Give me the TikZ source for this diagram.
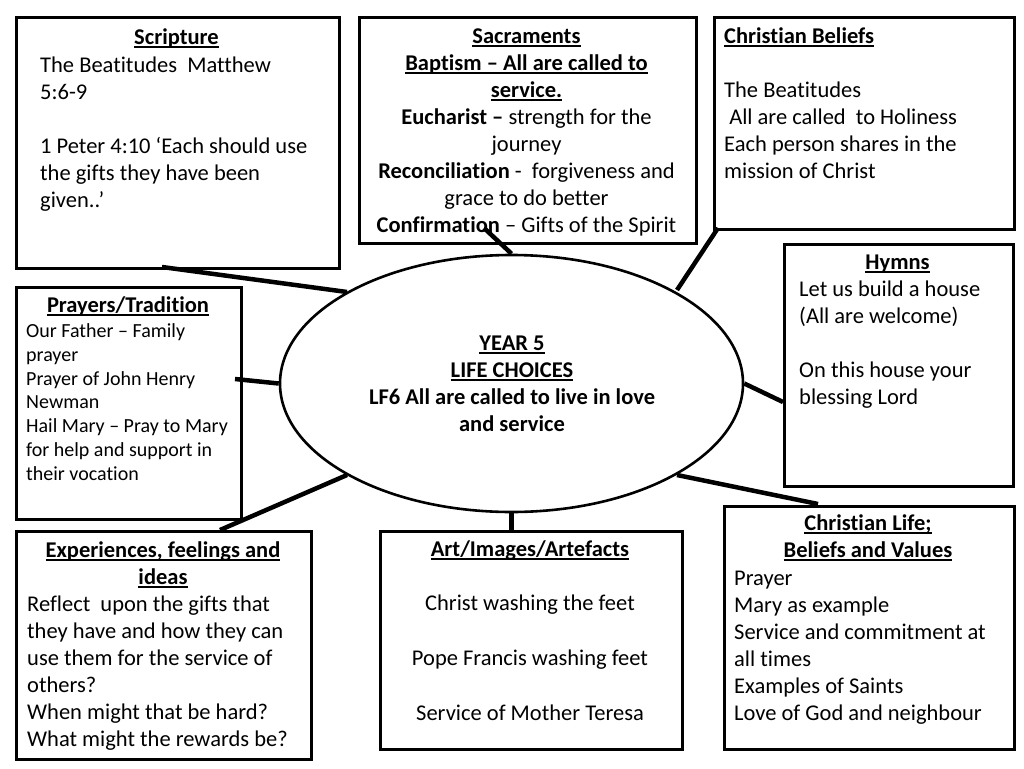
\documentclass[tikz,border=0pt]{standalone}
\usepackage{fontspec}
\setmainfont[Ligatures={NoCommon}]{Carlito}
\usetikzlibrary{shapes.geometric}
\newsavebox\ulbox
\newcommand{\uln}[1]{\sbox\ulbox{#1}\rlap{\rule[-3.4pt]{\wd\ulbox}{1.6pt}}\usebox\ulbox}
\newcommand{\fl}{\rule{0pt}{20pt}}
\begin{document}
\begin{tikzpicture}[x=1pt,y=-1pt,
  box/.style={draw=black, line width=2.6pt, fill=white, rectangle, inner sep=0pt, anchor=north west},
  conn/.style={draw=black, line width=4.5pt},
  big/.style={font=\fontsize{22.5}{27}\selectfont, inner sep=0pt, align=left, anchor=north west},
  bigc/.style={font=\fontsize{22.5}{27}\selectfont, inner sep=0pt, align=center, anchor=north},
  small/.style={font=\fontsize{20}{23.9}\selectfont, inner sep=0pt, align=left, anchor=north west}]
\useasboundingbox[fill=white] (0,0) rectangle (1024,768);

% boxes
\node[box, minimum width=323pt, minimum height=251pt] (scr) at (15,16) {};
\node[box, minimum width=337pt, minimum height=226pt] (sac) at (358,16) {};
\node[box, minimum width=300pt, minimum height=212pt] (cb) at (713,16) {};
\node[box, minimum width=229pt, minimum height=242pt] (hym) at (783,243) {};
\node[box, minimum width=225pt, minimum height=232pt] (pra) at (15,286) {};
\node[box, minimum width=295pt, minimum height=228pt] (exp) at (15,530) {};
\node[box, minimum width=302pt, minimum height=218pt] (art) at (379,530) {};
\node[box, minimum width=290pt, minimum height=243pt] (cl) at (723,505) {};
\node[draw=black, ellipse, line width=2.6pt, fill=white, minimum width=463pt, minimum height=257pt, inner sep=0pt] (ell) at (511.5,383.5) {};

% texts (node top = first baseline - 20)
\node[bigc] (scrT) at (176.5,24) {\fl\uln{\textbf{Scripture}}};
\node[big] (scrB) at (40,52) {\fl The Beatitudes\ \ Matthew\\5:6-9\\[27pt]1 Peter 4:10 ‘Each should use\\the gifts they have been\\given..’};

\node[bigc] (sacT) at (526.5,23) {\fl\uln{\textbf{Sacraments}}\\ \uln{\textbf{Baptism – All are called to}}\\ \uln{\textbf{service.}}\\ \textbf{Eucharist –} strength for the\\ journey\\ \textbf{Reconciliation} -\ \ forgiveness and\\ grace to do better\\ \textbf{Confirmation} – Gifts of the Spirit};

\node[big] (cbT) at (724,23) {\fl\uln{\textbf{Christian Beliefs}}\\[27pt]The Beatitudes\\\ All are called\ \ to Holiness\\Each person shares in the\\mission of Christ};

\node[bigc] (hymT) at (897.5,249) {\fl\uln{\textbf{Hymns}}};
\node[big] (hymB) at (799,276) {\fl Let us build a house\\(All are welcome)\\[27.5pt]On this house your\\blessing Lord};

\node[bigc] (praT) at (128,292) {\fl\uln{\textbf{Prayers/Tradition}}};
\node[small] (praB) at (26,317) {\fl Our Father – Family\\prayer\\Prayer of John Henry\\Newman\\Hail Mary – Pray to Mary\\for help and support in\\their vocation};

\node[bigc] (ellT) at (512,330) {\fl\uln{\textbf{YEAR 5}}\\ \uln{\textbf{LIFE CHOICES}}\\ \textbf{LF6 All are called to live in love}\\ \textbf{and service}};

\node[bigc] (expT) at (163,537) {\fl\uln{\textbf{Experiences, feelings and}}\\ \uln{\textbf{ideas}}};
\node[big] (expB) at (27,591) {\fl Reflect\ \ upon the gifts that\\they have and how they can\\use them for the service of\\others?\\When might that be hard?\\What might the rewards be?};

\node[bigc] (artT) at (530,536) {\fl\uln{\textbf{Art/Images/Artefacts}}\\[27.7pt]Christ washing the feet\\[27.7pt]Pope Francis washing feet\\[27.7pt]Service of Mother Teresa};

\node[bigc] (clT) at (868,510) {\fl\uln{\textbf{Christian Life;}}\\ \uln{\textbf{Beliefs and Values}}};
\node[big] (clB) at (734,565) {\fl Prayer\\Mary as example\\Service and commitment at\\all times\\Examples of Saints\\Love of God and neighbour};

% connector ends
\coordinate (s1) at (162,267); \coordinate (e1) at (347,292);
\coordinate (s2) at (484,228);
\coordinate (s3) at (718,228); \coordinate (e3) at (677,290);
\coordinate (s4) at (235,379);
\coordinate (s5) at (783,402);
\coordinate (s6) at (220,530); \coordinate (e6) at (347,475);
\coordinate (s8) at (818,504); \coordinate (e8) at (677,475);

\draw[conn] (s1) -- (e1);
\draw[conn] (s2) -- (ell.north);
\draw[conn] (s3) -- (e3);
\draw[conn] (s4) -- (ell.west);
\draw[conn] (s5) -- (ell.east);
\draw[conn] (s6) -- (e6);
\draw[conn] (ell.south) -- (ell.south |- art.north);
\draw[conn] (s8) -- (e8);
\end{tikzpicture}
\end{document}
